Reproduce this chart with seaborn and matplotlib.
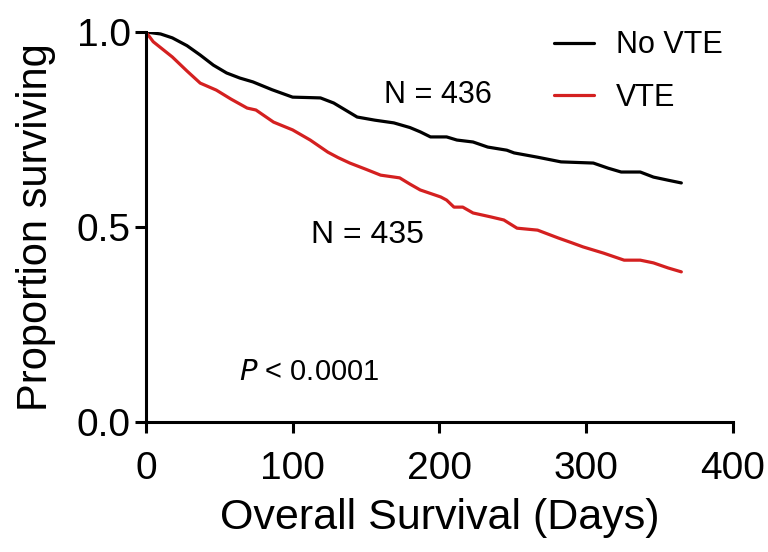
#!/usr/bin/env python3
"""
Kaplan-Meier style overall survival plot, VTE vs no VTE.
"""

import pandas as pd
import matplotlib.pyplot as plt
import seaborn as sns

# Survival curve (days, proportion surviving)
no_vte_days = [0, 10, 18, 28, 37, 46, 55, 64, 73, 86, 100, 110, 119, 128, 136,
               144, 156, 169, 180, 187, 194, 205, 212, 223, 233, 246, 251, 267,
               283, 305, 315, 324, 337, 346, 356, 365]
no_vte_surv = [1.0, 0.995, 0.985, 0.965, 0.941, 0.915, 0.895, 0.882, 0.872,
               0.852, 0.833, 0.832, 0.831, 0.818, 0.800, 0.782, 0.774, 0.767,
               0.755, 0.744, 0.731, 0.731, 0.723, 0.718, 0.705, 0.697, 0.690,
               0.679, 0.667, 0.664, 0.651, 0.641, 0.641, 0.628, 0.620, 0.613]

vte_days = [0, 5, 10, 18, 28, 37, 48, 58, 69, 75, 87, 100, 112, 124, 131, 139,
            150, 160, 173, 180, 187, 201, 205, 210, 216, 223, 235, 244, 253,
            267, 281, 290, 298, 312, 326, 337, 346, 356, 365]
vte_surv = [1.0, 0.975, 0.960, 0.936, 0.900, 0.869, 0.851, 0.828, 0.805, 0.800,
            0.769, 0.749, 0.723, 0.692, 0.678, 0.664, 0.648, 0.633, 0.626,
            0.610, 0.595, 0.577, 0.569, 0.551, 0.551, 0.536, 0.526, 0.518,
            0.497, 0.492, 0.472, 0.460, 0.449, 0.433, 0.415, 0.415, 0.408,
            0.395, 0.385]

groups = ['No VTE', 'VTE']
colors = {'No VTE': '#000000', 'VTE': '#d42020'}

df = pd.concat([
    pd.DataFrame({'days': no_vte_days, 'surv': no_vte_surv, 'group': 'No VTE'}),
    pd.DataFrame({'days': vte_days, 'surv': vte_surv, 'group': 'VTE'}),
])

sns.set_style("ticks")
plt.rcParams['font.family'] = ['Liberation Sans', 'DejaVu Sans']
for key in ['text.color', 'axes.labelcolor', 'xtick.color', 'ytick.color',
            'axes.edgecolor']:
    plt.rcParams[key] = 'black'

fig = plt.figure(figsize=(7.68, 5.52), dpi=100)
ax = fig.add_axes([0.19, 0.2355, 0.764, 0.7065])

sns.lineplot(data=df, x='days', y='surv', hue='group', hue_order=groups,
             palette=colors, linewidth=2.3, estimator=None, ax=ax)

ax.set_xlim(0, 400)
ax.set_ylim(0, 1.0)
ax.set_xticks([0, 100, 200, 300, 400])
ax.set_yticks([0.0, 0.5, 1.0])
ax.set_yticklabels(['0.0', '0.5', '1.0'])
ax.tick_params(labelsize=28, width=2.2, length=8)
ax.tick_params(axis='x', pad=13)
ax.tick_params(axis='y', pad=3)
ax.set_xlabel('Overall Survival (Days)', fontsize=31, labelpad=8)
ax.set_ylabel('Proportion surviving', fontsize=30, labelpad=15)

for side in ['top', 'right']:
    ax.spines[side].set_visible(False)
for side in ['left', 'bottom']:
    ax.spines[side].set_linewidth(2.2)

ax.text(199, 0.838, 'N = 436', fontsize=22, ha='center', va='center')
ax.text(151, 0.48, 'N = 435', fontsize=23, ha='center', va='center')
ax.text(111, 0.128, '$P$ < 0.0001', fontsize=21, ha='center', va='center')

ax.legend(frameon=False, fontsize=22, loc='upper right',
          bbox_to_anchor=(1.03, 1.075), labelspacing=0.75, handlelength=1.3,
          handletextpad=0.72)

plt.savefig('out.png', dpi=100)
plt.close()
